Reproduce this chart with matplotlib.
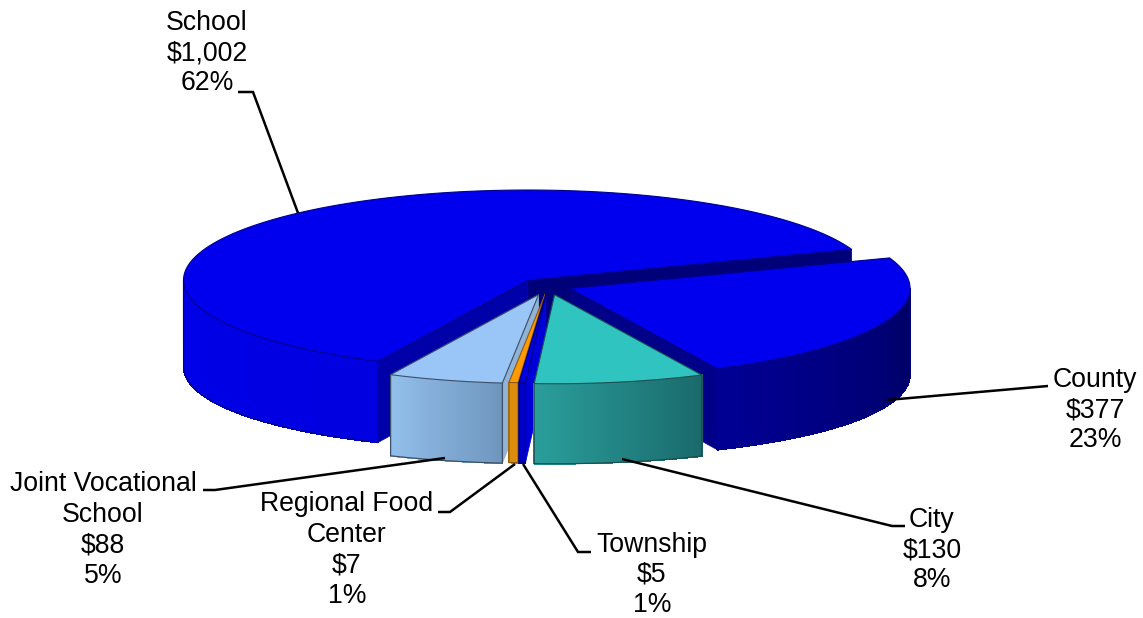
import numpy as np
import matplotlib
matplotlib.use("Agg")
import matplotlib.pyplot as plt
from matplotlib.patches import Polygon

# ---- data ----
names = ["School", "Joint Vocational\nSchool", "Regional Food\nCenter", "Township", "City", "County"]
values = [1002, 88, 7, 5, 130, 377]
percents = [62, 5, 1, 1, 8, 23]

# ---- styling ----
explode = [0.088, 0.10, 0.09, 0.09, 0.10, 0.07]
radius_scale = [1.013, 1.0, 1.0, 1.0, 1.0, 1.0]
top_cols = ["#0000EE", "#99C6F6", "#FF9A05", "#0000E6", "#2FC4C0", "#0000EE"]
side_from = ["#0000E8", "#93BFEC", "#DC8C0C", "#0000C8", "#2A9E9B", "#000094"]
side_to = ["#0000E0", "#6F97BE", "#DC8C0C", "#0000C8", "#1A6A6C", "#000062"]
wall_cols = ["#0000A8", "#8FB2D6", "#DC8C0C", "#0000D8", "#1A6A6C", "#000088"]
edge_cols = ["#00008C", "#3C4F68", "#8A5A10", "#000080", "#1C4F50", "#00008C"]
second_wall = {0: "#000078"}
draw_order = [0, 5, 1, 2, 3, 4]
START = 20.0
CX, CY, RX, RY, H0, H1 = 548.0, 286.0, 340.0, 89.0, 80.0, 6.0
LW = 2.5 * 72 / 100

label_pos = [(207, 53), (103, 530), (347, 550), (652, 575), (932, 550), (1095, 410)]
leaders = [
    [(238, 92), (253, 92), (298, 213)],
    [(203, 490), (215, 490), (445, 458)],
    [(438, 512), (450, 512), (515, 464)],
    [(591, 552), (578, 552), (523, 464)],
    [(905, 526), (892, 526), (622, 459)],
    [(1048, 386), (887, 400)],
]

fig = plt.figure(figsize=(11.43, 6.18), dpi=100)
ax = fig.add_axes([0, 0, 1, 1])
ax.set_xlim(0, 1143)
ax.set_ylim(618, 0)
ax.axis("off")


def mix(c1, c2, f):
    a = np.array(matplotlib.colors.to_rgb(c1))
    b = np.array(matplotlib.colors.to_rgb(c2))
    return tuple(a + (b - a) * f)


def depth(deg):
    return H0 + H1 * np.cos(np.radians(deg)) ** 2


spans = 360.0 * np.array(values) / np.sum(values)
starts = START + np.concatenate([[0], np.cumsum(spans)[:-1]])

for i in draw_order:
    t0, t1 = starts[i], starts[i] + spans[i]
    mid = np.radians((t0 + t1) / 2)
    cx = CX + explode[i] * RX * np.cos(mid)
    cy = CY - explode[i] * RY * np.sin(mid)
    rx, ry = RX * radius_scale[i], RY * radius_scale[i]

    def pt(deg):
        r = np.radians(deg)
        return cx + rx * np.cos(r), cy - ry * np.sin(r)

    # radial walls (visible when the outward normal faces the viewer)
    for deg, nrm in ((t0, t0 - 90), (t1, t1 + 90)):
        if np.sin(np.radians(nrm)) < 0:
            x, y = pt(deg)
            col = second_wall.get(i, wall_cols[i]) if deg == t0 else wall_cols[i]
            ax.add_patch(Polygon([(cx, cy), (x, y), (x, y + depth(deg)), (cx, cy + H0)],
                                 closed=True, fc=col, ec=col, lw=0.5))

    # outer rim, front part only
    ts = np.linspace(t0, t1, max(int(spans[i] * 2), 2) + 1)
    front = np.array([d for d in ts if np.sin(np.radians(d)) <= 0.0])
    if len(front):
        n = len(front) - 1
        for k in range(n):
            xa, ya = pt(front[k])
            xb, yb = pt(front[k + 1])
            c = mix(side_from[i], side_to[i], k / max(n - 1, 1))
            ax.add_patch(Polygon([(xa, ya), (xb, yb), (xb, yb + depth(front[k + 1])),
                                  (xa, ya + depth(front[k]))],
                                 closed=True, fc=c, ec=c, lw=0.6, antialiased=False))
        xs, ys = np.array([pt(d) for d in front]).T
        hs = depth(front)
        ax.plot(np.r_[xs[0], xs, xs[-1]], np.r_[ys[0], ys + hs, ys[-1]],
                color=edge_cols[i], lw=0.9, solid_joinstyle="round")

    # top face
    poly = [(cx, cy)] + [pt(d) for d in ts]
    ax.add_patch(Polygon(poly, closed=True, fc=top_cols[i], ec=edge_cols[i], lw=0.8))

# leader lines and labels
for line in leaders:
    xs, ys = zip(*line)
    ax.plot(xs, ys, color="black", lw=LW, solid_capstyle="butt", solid_joinstyle="miter", zorder=5)

for name, val, pct, (lx, ly) in zip(names, values, percents, label_pos):
    ax.text(lx, ly, f"{name}\n${val:,}\n{pct}%", ha="center", va="center",
            family="Liberation Sans", fontsize=19.2, color="black", linespacing=1.22,
            parse_math=False, zorder=6)

fig.savefig("out.png", dpi=100, facecolor="white")
